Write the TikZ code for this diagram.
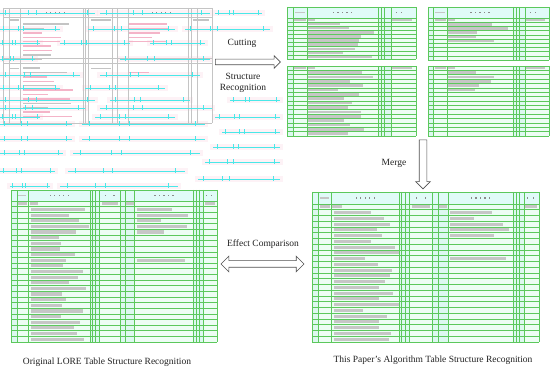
\documentclass[tikz,border=0pt]{standalone}
\usepackage{fontspec}
\setmainfont{Liberation Serif}
\usetikzlibrary{shapes.arrows,positioning}

\definecolor{gridgreen}{HTML}{5CC85C}
\definecolor{cellfill}{HTML}{EDFDF4}
\definecolor{headfill}{HTML}{E0FBF8}
\definecolor{bandfill}{HTML}{DDF8F0}
\definecolor{bargray}{HTML}{C6C6C6}
\definecolor{markgray}{HTML}{8A8A8A}
\definecolor{noisecyan}{HTML}{4AE8E8}
\definecolor{noisepink}{HTML}{FCE6EE}
\definecolor{oldgray}{HTML}{C4C4C4}
\definecolor{oldpink}{HTML}{F4B4C8}
\definecolor{arrowgray}{HTML}{505050}
\definecolor{labelgray}{HTML}{222222}

\tikzset{
  gridline/.style={draw=gridgreen, line width=.5pt},
  textbar/.style={fill=bargray},
  headmark/.style={fill=markgray},
  noiseline/.style={draw=noisecyan, line width=.45pt},
  noiseband/.style={fill=noisepink, opacity=.5},
  oldline/.style={draw=oldgray, line width=.45pt},
  label text/.style={font=\fontsize{9.5}{11}\selectfont, text=labelgray, inner sep=1pt},
  hollow arrow/.style={single arrow, draw=arrowgray, fill=white, line width=.6pt,
    inner xsep=0pt, inner ysep=2.5pt, single arrow head extend=3.5pt, minimum height=#1},
  hollow double arrow/.style={double arrow, draw=arrowgray, fill=white, line width=.6pt,
    inner xsep=0pt, inner ysep=3pt, double arrow head extend=4.5pt, minimum height=#1}
}

% merged (full) table: #1 x, #2 y, #3 width, #4 height, #5 header height,
% #6 body rows, #7 rows with text (left), #8 rows with text (right), #9 seed
\newcommand{\fulltable}[9]{%
\begin{scope}[shift={(#1,#2)}]
  \pgfmathsetseed{#9}
  \pgfmathsetmacro\rowh{(#4-#5)/#6}
  \fill[cellfill] (0,0) rectangle (#3,#4);
  \fill[headfill] (0,0) rectangle (#3,#5);
  \foreach \a/\b in {0/.028,.385/.43,.53/.6,.885/.933}
    \fill[bandfill] (\a*#3,#5) rectangle (\b*#3,#4);
  % header marks
  \foreach \c in {.234,.7425} {
    \foreach \k in {-2,...,2}
      \fill[headmark] ({\c*#3+\k*4.5-.6},#5/2-.8) rectangle ++(1.2,1.6);
  }
  \foreach \c in {.46,.5,.95,.975}
    \fill[headmark] ({\c*#3-.6},#5/2-.8) rectangle ++(1.2,1.6);
  \fill[bargray] (.035*#3,#5/2-.7) rectangle (.075*#3,#5/2+.7);
  % first row
  \foreach \a/\b in {.035/.078,.09/.13,.44/.52,.56/.595,.94/.99}
    \fill[textbar] (\a*#3,#5+.25*\rowh) rectangle (\b*#3,#5+.75*\rowh);
  % text lines
  \foreach \r in {#7} {
    \pgfmathsetmacro\bl{.13+.16*rnd}
    \fill[textbar] (.095*#3,#5+\r*\rowh-.78*\rowh) rectangle ({(.095+\bl)*#3},#5+\r*\rowh-.22*\rowh);
  }
  \foreach \r in {#8} {
    \pgfmathsetmacro\bl{.08+.19*rnd}
    \fill[textbar] (.61*#3,#5+\r*\rowh-.78*\rowh) rectangle ({(.61+\bl)*#3},#5+\r*\rowh-.22*\rowh);
  }
  % grid
  \foreach \f in {0,.028,.083,.385,.395,.41,.43,.53,.555,.6,.885,.898,.912,.933,1}
    \draw[gridline] (\f*#3,0) -- (\f*#3,#4);
  \foreach \r in {0,...,#6}
    \draw[gridline] (0,#5+\r*\rowh) -- (#3,#5+\r*\rowh);
  \draw[gridline] (0,0) -- (#3,0);
\end{scope}}

% cut table: #1 x, #2 y, #3 width, #4 height, #5 header height,
% #6 body rows, #7 rows with text, #8 seed
\newcommand{\cuttable}[8]{%
\begin{scope}[shift={(#1,#2)}]
  \pgfmathsetseed{#8}
  \pgfmathsetmacro\rowh{(#4-#5)/#6}
  \fill[cellfill] (0,0) rectangle (#3,#4);
  \fill[headfill] (0,0) rectangle (#3,#5);
  \foreach \a/\b in {0/.047,.705/.806}
    \fill[bandfill] (\a*#3,#5) rectangle (\b*#3,#4);
  \ifdim #5pt>0pt
    \foreach \k in {-2,...,2}
      \fill[headmark] ({.43*#3+\k*4.5-.6},#5/2-.8) rectangle ++(1.2,1.6);
    \foreach \c in {.85,.89}
      \fill[headmark] ({\c*#3-.6},#5/2-.8) rectangle ++(1.2,1.6);
    \fill[bargray] (.06*#3,#5/2-.7) rectangle (.14*#3,#5/2+.7);
  \fi
  \foreach \a/\b in {.055/.145,.165/.22,.81/.97}
    \fill[textbar] (\a*#3,#5+.25*\rowh) rectangle (\b*#3,#5+.75*\rowh);
  \foreach \r in {#7} {
    \pgfmathsetmacro\bl{.22+.3*rnd}
    \fill[textbar] (.165*#3,#5+\r*\rowh-.8*\rowh) rectangle ({(.165+\bl)*#3},#5+\r*\rowh-.2*\rowh);
  }
  \foreach \f in {0,.047,.155,.705,.729,.752,.806,1}
    \draw[gridline] (\f*#3,0) -- (\f*#3,#4);
  \foreach \r in {0,...,#6}
    \draw[gridline] (0,#5+\r*\rowh) -- (#3,#5+\r*\rowh);
  \draw[gridline] (0,0) -- (#3,0);
\end{scope}}

\begin{document}
\begin{tikzpicture}[x=1pt, y=-1pt]
\useasboundingbox (0,0) rectangle (550,371);
\fill[white] (0,0) rectangle (550,371);

% Detection noise round the original table
\foreach \y/\a/\b in {13/0/95, 13/100/210, 13/215/262, 29/0/60, 29/88/175, 29/185/270,
  43/0/40, 43/60/130, 43/150/205, 59/0/35, 59/120/210, 75/0/80, 75/100/200,
  88/0/60, 88/85/165, 100/0/95, 100/110/190, 100/230/280, 108/0/85, 108/100/212,
  117/0/40, 117/95/175, 117/215/280, 124/0/72, 124/82/205, 132/222/280, 139/0/72,
  139/82/205, 147/213/280, 153/0/63, 153/73/200, 162/205/280, 171/0/55, 171/68/185,
  179/198/280, 186/10/50, 186/60/178} {
  \fill[noiseband] (\a-3,\y-3) rectangle (\b+3,\y+3);
}

% Original table (before cutting)
\begin{scope}[shift={(3,8)}]
  \pgfmathsetseed{7}
  \foreach \r in {0,...,21} {
    \pgfmathsetmacro\bl{15+36*rnd}
    \pgfmathsetmacro\pk{rnd}
    \ifdim\pk pt>.5pt \def\bc{oldpink}\else\def\bc{oldgray}\fi
    \fill[\bc] (20,15.4+\r*4.4) rectangle (20+\bl,16.8+\r*4.4);
  }
  \foreach \r in {0,...,4,11,...,16} {
    \pgfmathsetmacro\bl{18+30*rnd}
    \fill[oldpink] (126,15.4+\r*4.4) rectangle (126+\bl,16.8+\r*4.4);
  }
  \foreach \a/\b in {7/16,88/108,190/206}
    \fill[oldgray] (\a,11.2) rectangle (\b,12.6);
  \foreach \a/\b in {7/16,88/108}
    \fill[oldgray] (\a,59.6) rectangle (\b,61);
  \foreach \k in {-2,...,2} {
    \fill[markgray] (51.5+\k*4.5,3.8) rectangle ++(1.2,1.6);
    \fill[markgray] (157.5+\k*4.5,3.8) rectangle ++(1.2,1.6);
  }
  \foreach \f in {0,6,17,80,82,85,109,114,125,185,188,194,209}
    \draw[oldline] (\f,0) -- (\f,115);
  \foreach \h in {0,9,50,55,115}
    \draw[oldline] (0,\h) -- (209,\h);
\end{scope}

% Cyan lines with ticks
\foreach \y/\a/\b in {13/0/95, 13/100/210, 13/215/262, 29/0/60, 29/88/175, 29/185/270,
  43/0/40, 43/60/130, 43/150/205, 59/0/35, 59/120/210, 75/0/80, 75/100/200,
  88/0/60, 88/85/165, 100/0/95, 100/110/190, 100/230/280, 108/0/85, 108/100/212,
  117/0/40, 117/95/175, 117/215/280, 124/0/72, 124/82/205, 132/222/280, 139/0/72,
  139/82/205, 147/213/280, 153/0/63, 153/73/200, 162/205/280, 171/0/55, 171/68/185,
  179/198/280, 186/10/50, 186/60/178} {
  \draw[noiseline] (\a,\y) -- (\b,\y);
  \foreach \t in {.06,.3,.38,.92}
    \draw[noiseline] ({\a+\t*(\b-\a)},\y-2.5) -- ({\a+\t*(\b-\a)},\y+2.5);
}

% The four cut tables
\cuttable{287}{7}{129}{52}{11}{10}{2,...,10}{3}
\cuttable{428}{7}{121}{53}{11}{10}{2,...,6}{5}
\cuttable{287}{66}{129}{70}{0}{16}{2,...,16}{11}
\cuttable{428}{66}{121}{70}{0}{16}{2,...,6}{13}

% The original result and the merged result
\fulltable{11}{190}{206}{152}{11}{25}{2,...,25}{2,...,6,11,...,15}{17}
\fulltable{312}{192}{227}{150}{12}{24}{2,...,24}{2,...,6,10,...,14}{19}

% Arrows
\node[hollow arrow=65] (cutarrow) at (246.5,62) {};
\node[hollow arrow=49, rotate=-90, inner ysep=3.5pt] (mergearrow) at (423,162.5) {};
\node[hollow double arrow=83] (comparearrow) at (262.5,264) {};

% Labels
\node[label text] (cutlabel) at (242,43) {Cutting};
\node[label text, align=center] (structlabel) at (243,83) {Structure\\Recognition};
\node[label text] (mergelabel) at (394,163) {Merge};
\node[label text] (comparelabel) at (263,244) {Effect Comparison};
\node[label text] (origcaption) at (107,362) {Original LORE Table Structure Recognition};
\node[label text] (newcaption) at (433,360) {This Paper's Algorithm Table Structure Recognition};
\end{tikzpicture}
\end{document}
